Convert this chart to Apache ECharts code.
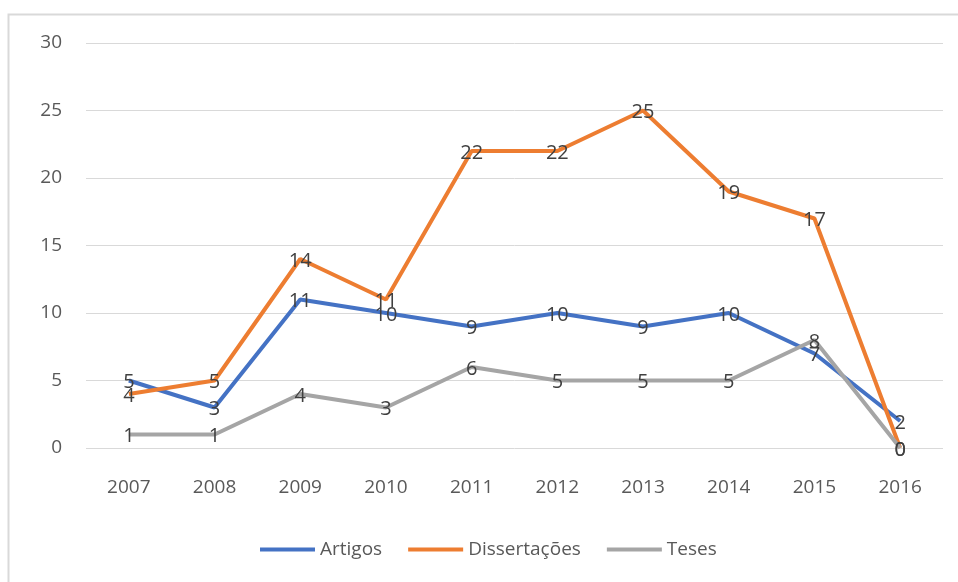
<!DOCTYPE html>
<html>
<head>
<meta charset="utf-8">
<script src="https://cdn.jsdelivr.net/npm/echarts@6/dist/echarts.min.js"></script>
<style>
  html, body { margin: 0; padding: 0; background: #fff; }
  #chart { width: 958px; height: 582px; }
</style>
</head>
<body>
<div id="chart"></div>
<script>
var years = ["2007", "2008", "2009", "2010", "2011", "2012", "2013", "2014", "2015", "2016"];
var artigos = [5, 3, 11, 10, 9, 10, 9, 10, 7, 2];
var dissertacoes = [4, 5, 14, 11, 22, 22, 25, 19, 17, 0];
var teses = [1, 1, 4, 3, 6, 5, 5, 5, 8, 0];

var font = "'Open Sans', Lato, sans-serif";

function lineSeries(name, data, color) {
  return {
    name: name,
    type: "line",
    data: data,
    symbol: "circle",
    symbolSize: 0.1,
    showSymbol: true,
    lineStyle: { width: 4, color: color },
    itemStyle: { color: color },
    label: {
      show: true,
      position: "inside",
      offset: [0, 2],
      fontSize: 20,
      fontFamily: font,
      color: "#404040"
    }
  };
}

var chart = echarts.init(document.getElementById("chart"));
chart.setOption({
  animation: false,
  textStyle: { fontFamily: font },
  graphic: [
    {
      type: "rect",
      shape: { x: 8.5, y: 14.5, width: 1000, height: 1000 },
      style: { fill: "none", stroke: "#d9d9d9", lineWidth: 2 },
      silent: true
    }
  ],
  grid: { left: 86, right: 15, top: 43, bottom: 134 },
  legend: {
    bottom: 18,
    left: 255,
    itemWidth: 55,
    itemHeight: 4,
    itemGap: 26,
    icon: "rect",
    textStyle: { fontSize: 19, color: "#595959", fontFamily: font },
    data: ["Artigos", "Dissertações", "Teses"]
  },
  xAxis: {
    type: "category",
    data: years,
    boundaryGap: true,
    axisLine: { show: false },
    axisTick: { show: false },
    axisLabel: { fontSize: 19, color: "#595959", margin: 30 }
  },
  yAxis: {
    type: "value",
    min: 0,
    max: 30,
    interval: 5,
    axisLine: { show: false },
    axisTick: { show: false },
    axisLabel: { fontSize: 19, color: "#595959", margin: 24 },
    splitLine: { lineStyle: { color: "#d9d9d9", width: 1 } }
  },
  series: [
    lineSeries("Artigos", artigos, "#4472c4"),
    lineSeries("Dissertações", dissertacoes, "#ed7d31"),
    lineSeries("Teses", teses, "#a5a5a5")
  ]
});
</script>
</body>
</html>
